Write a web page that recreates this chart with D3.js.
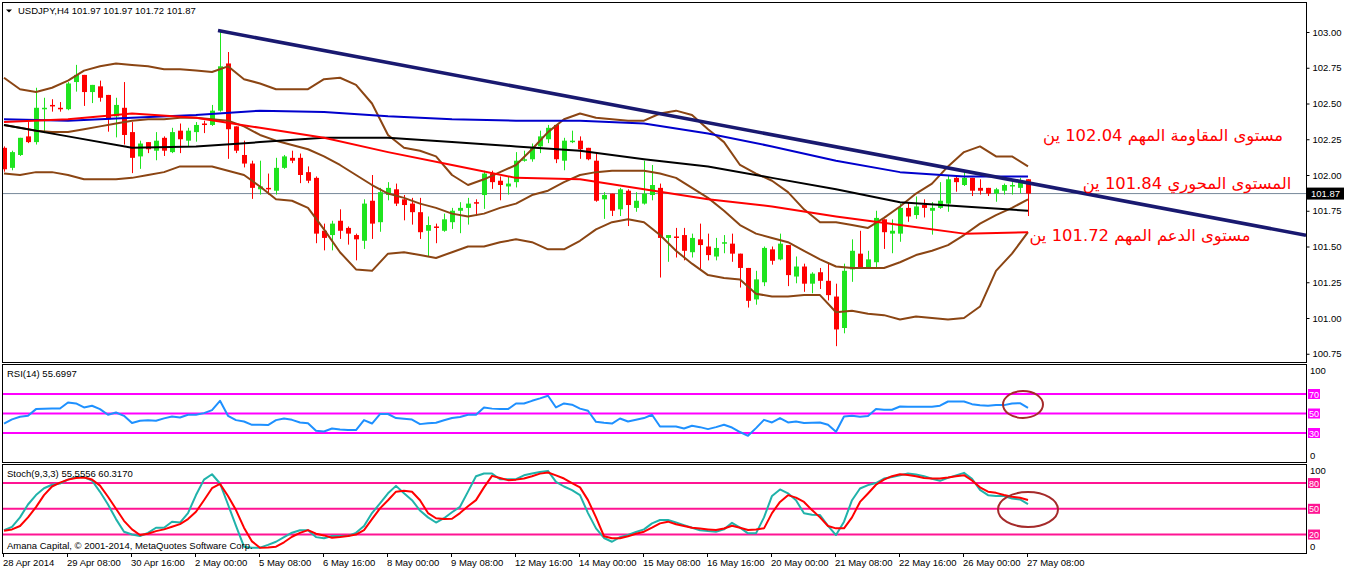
<!DOCTYPE html>
<html><head><meta charset="utf-8">
<script src="https://cdn.jsdelivr.net/npm/d3@7"></script>
<style>body{margin:0;background:#fff;}svg{display:block;font-family:"Liberation Sans",Arial,sans-serif;}</style>
</head><body><svg id="c" width="1346" height="571"></svg>
<script>
// ---------- DATA ----------
const symbolHeader = "USDJPY,H4  101.97 101.97 101.72 101.87";
const openP = [102.19,102.05,102.14,102.27,102.23,102.46,102.49,102.47,102.46,102.65,102.70,102.58,102.62,102.56,102.41,102.47,102.30,102.13,102.23,102.17,102.26,102.16,102.31,102.24,102.30,102.36,102.35,102.45,102.78,102.34,102.14,102.08,101.90,101.91,101.89,102.05,102.12,102.12,102.02,101.98,101.61,101.58,101.68,101.63,101.58,101.54,101.82,101.67,101.86,101.90,101.83,101.80,101.74,101.61,101.64,101.61,101.67,101.75,101.77,101.81,101.86,102.01,101.96,101.92,101.95,102.10,102.11,102.20,102.25,102.35,102.10,102.23,102.24,102.19,102.10,101.83,101.87,101.76,101.89,101.77,101.80,101.86,101.91,101.56,101.57,101.58,101.46,101.55,101.50,101.43,101.52,101.52,101.45,101.35,101.13,101.25,101.48,101.41,101.51,101.29,101.36,101.24,101.32,101.26,101.15,100.93,101.34,101.45,101.35,101.39,101.69,101.59,101.59,101.77,101.72,101.79,101.75,101.77,101.80,101.98,101.93,101.98,101.91,101.91,101.87,101.89,101.92,101.91,101.97];
const highP = [102.20,102.17,102.26,102.37,102.61,102.54,102.53,102.51,102.65,102.77,102.70,102.63,102.66,102.56,102.54,102.65,102.37,102.24,102.23,102.30,102.27,102.33,102.36,102.33,102.37,102.38,102.49,103.01,102.86,102.34,102.24,102.10,102.10,102.01,102.12,102.14,102.17,102.15,102.06,101.99,101.66,101.68,101.76,101.64,101.59,101.83,102.00,101.91,101.95,101.94,101.86,101.84,101.84,101.71,101.66,101.73,101.77,101.81,101.84,101.83,102.03,102.03,101.99,101.99,102.16,102.17,102.22,102.31,102.35,102.35,102.26,102.31,102.27,102.19,102.16,101.88,101.87,101.91,101.90,101.88,102.10,102.07,101.94,101.58,101.63,101.63,101.59,101.66,101.59,101.56,101.58,101.59,101.45,101.35,101.33,101.50,101.50,101.59,101.51,101.43,101.38,101.32,101.35,101.39,101.24,101.38,101.55,101.61,101.47,101.75,101.69,101.69,101.80,101.81,101.85,101.83,101.81,101.95,102.00,102.00,102.02,101.98,101.97,101.91,101.91,101.94,101.95,101.98,101.97];
const lowP = [102.03,102.04,102.14,102.23,102.22,102.30,102.45,102.45,102.46,102.59,102.49,102.51,102.52,102.31,102.27,102.22,102.02,102.05,102.16,102.11,102.14,102.16,102.16,102.21,102.24,102.30,102.35,102.45,102.12,102.16,102.06,101.84,101.87,101.87,101.87,102.05,102.09,101.95,101.95,101.53,101.48,101.48,101.56,101.52,101.41,101.49,101.56,101.61,101.83,101.79,101.69,101.66,101.56,101.44,101.53,101.61,101.63,101.60,101.66,101.72,101.77,101.91,101.83,101.87,101.92,102.10,102.10,102.16,102.23,102.09,102.04,102.23,102.12,102.11,101.82,101.70,101.72,101.72,101.65,101.75,101.80,101.83,101.29,101.40,101.43,101.41,101.43,101.34,101.41,101.41,101.46,101.40,101.22,101.08,101.10,101.23,101.38,101.41,101.23,101.25,101.19,101.18,101.21,101.13,100.81,100.90,101.26,101.35,101.35,101.35,101.49,101.46,101.54,101.68,101.70,101.71,101.59,101.77,101.75,101.89,101.93,101.86,101.87,101.86,101.82,101.87,101.87,101.88,101.72];
const closeP = [102.04,102.16,102.26,102.23,102.47,102.47,102.48,102.465,102.64,102.70,102.58,102.63,102.54,102.39,102.49,102.28,102.12,102.22,102.18,102.24,102.17,102.30,102.25,102.31,102.35,102.35,102.45,102.76,102.32,102.17,102.08,101.91,101.92,101.90,102.05,102.13,102.10,102.00,101.96,101.59,101.56,101.66,101.61,101.59,101.55,101.80,101.66,101.88,101.91,101.80,101.79,101.74,101.60,101.65,101.63,101.69,101.75,101.77,101.80,101.80,102.01,101.95,101.93,101.94,102.10,102.11,102.19,102.27,102.33,102.11,102.24,102.24,102.18,102.11,101.82,101.86,101.75,101.90,101.79,101.82,101.87,101.93,101.56,101.58,101.56,101.47,101.56,101.51,101.44,101.49,101.53,101.45,101.35,101.12,101.27,101.49,101.40,101.52,101.30,101.36,101.24,101.31,101.26,101.16,100.92,101.33,101.47,101.35,101.41,101.70,101.60,101.61,101.77,101.71,101.78,101.77,101.77,101.82,101.97,101.95,101.98,101.89,101.89,101.87,101.90,101.93,101.93,101.95,101.87];
const lastPrice = 101.87;

// Bollinger bands, read every 2 bars
const bbUpper = [102.68,102.60,102.58,102.61,102.66,102.73,102.76,102.78,102.77,102.76,102.74,102.74,102.73,102.72,102.76,102.67,102.64,102.60,102.60,102.60,102.67,102.68,102.63,102.50,102.28,102.19,102.17,102.13,102.00,101.93,101.97,102.02,102.07,102.18,102.30,102.39,102.43,102.40,102.39,102.38,102.38,102.43,102.45,102.42,102.32,102.23,102.07,102.01,101.96,101.88,101.76,101.67,101.67,101.65,101.63,101.70,101.78,101.87,101.94,102.06,102.16,102.20,102.13,102.13,102.06];
const bbMiddle = [102.35,102.33,102.31,102.30,102.30,102.32,102.34,102.36,102.38,102.39,102.39,102.40,102.40,102.39,102.38,102.34,102.28,102.24,102.21,102.18,102.13,102.07,102.00,101.93,101.87,101.84,101.80,101.77,101.73,101.71,101.73,101.77,101.80,101.86,101.89,101.95,102.00,102.02,102.03,102.03,102.03,102.01,101.98,101.91,101.84,101.75,101.65,101.59,101.56,101.53,101.47,101.41,101.36,101.35,101.35,101.35,101.39,101.44,101.47,101.51,101.58,101.66,101.72,101.77,101.83];
const bbLower = [102.01,102.00,102.02,102.02,102.00,101.97,101.97,101.97,101.98,102.00,102.02,102.06,102.06,102.06,102.03,102.00,101.92,101.83,101.82,101.77,101.62,101.46,101.34,101.33,101.45,101.46,101.44,101.42,101.46,101.50,101.50,101.53,101.55,101.53,101.48,101.48,101.54,101.62,101.67,101.69,101.67,101.58,101.47,101.38,101.30,101.28,101.27,101.17,101.15,101.15,101.16,101.16,101.04,101.05,101.03,101.02,100.99,101.01,101.00,100.99,101.00,101.08,101.33,101.45,101.60];
// Moving averages, read every 8 bars
const maBlue = [102.39,102.38,102.40,102.42,102.45,102.44,102.41,102.39,102.38,102.38,102.36,102.29,102.20,102.10,102.02,101.99,101.99];
const maBlack = [102.35,102.27,102.19,102.20,102.23,102.26,102.26,102.23,102.20,102.17,102.11,102.06,101.98,101.90,101.81,101.78,101.75];
const maRed = [102.37,102.39,102.43,102.40,102.33,102.26,102.16,102.07,101.98,101.97,101.90,101.83,101.78,101.71,101.65,101.59,101.60];
// Trend line anchors (bar index, price)
const trendIdx = [27, 128];
const trendVal = [103.01, 101.945];

const rsi = [39.7,44,46.6,47.6,54.5,54.8,55.1,55.1,61.3,60.3,56.2,57.9,54.5,48.7,51,47.6,40.2,42.5,43.2,42.5,45,46.9,45.9,48.7,48.7,50.4,53.5,63,47.6,43.2,41.8,38.4,38.4,38.1,43.2,44.9,43.5,40.8,40,32.3,31.6,34.6,33.5,33,33,43.2,39.7,49.4,49.5,45.3,44.5,43.8,39.1,40,40.5,43,45.3,46.5,48.7,48.7,56.2,55,54.5,54.5,60.3,60.3,63,65.5,68.2,56.2,60.3,59,55,52.8,41.5,40.5,39.7,44.9,41.8,43.5,45.3,48.7,36.7,36.7,36.7,34.6,37.4,36,34,36,38.4,35.6,31,27.1,35,43.5,40.8,45.3,40.8,41.8,40.2,40.5,40.8,38.4,31.2,46.9,47.6,46.6,47.5,54.5,53.8,53.8,57.2,56.9,57,56.9,56.9,58,62.3,62.3,62.3,59.6,58.5,57.9,58.6,58.6,60.3,60.6,55.7];
const stochK = [25.2,29,40,55,66,74,78,79.5,84,87,87,83,69.8,55,38,23.3,20,18.3,22,27.9,27.9,34.9,34,45,66,84,90.3,79.5,55,30,5.8,4.7,4.7,8,11.6,17,22.1,25,25,17,15.6,18.3,18.3,18.3,22,30,45,56.3,68,76.7,68,60,48,40,34,39,46,52.3,70,88,91.2,91.2,84.5,84.5,84.5,89,91.2,93,94.2,81.4,76,71.7,66,45,27.2,16,11.6,17,19.4,23,26,33,36.9,36.9,34,31,28,25,24,23.3,26,33.7,28,21.4,21.4,40,65,72.6,68,60,44.7,43,42.7,30,19.4,35,60,73.7,77.6,80,85.3,87,89,91.2,90,88,85,82.6,86,89,91.9,85,72,65.9,64.8,64.8,62,60.9,55.56];
const stochD = [24.4,26,29.9,40,52,66,76,80.5,84,86,86.5,84.2,77,64,50,36,26,19.4,21,24,26,29,32.2,38,46.5,60,74,79,65,48.5,28,12,4.7,5,5.8,11,17.4,22,25.2,21,19,16.3,17,18.3,20,25.2,38,50.5,60,70,71,69.8,60,45,39,38,38.4,45,53,60.1,75,88.4,86,83.4,84,85.3,88,91,92.3,89,85.3,80,75,60.1,40,18,15.6,15.6,18,21,23.3,28,33,35,32,30,28,27,26,25.2,27,30.2,28,25.2,26,27.2,45,58,65.9,63,58,48.5,40,30,27.2,27.2,40,58,67.9,78,84,88,90.3,89.5,88,86,85.3,85.3,86.5,88,89.2,83,75,70,68.6,66,64,62.8,60.32];

const priceTicks = [103.00,102.75,102.50,102.25,102.00,101.75,101.50,101.25,101.00,100.75];
const rsiLevels = [70,50,30];
const stochLevels = [80,50,20];
const dateTickIdx = [0,8,16,24,32,40,48,56,64,72,80,88,96,104,112,120,128];
const dateTickLabels = ["28 Apr 2014","29 Apr 08:00","30 Apr 16:00","2 May 00:00","5 May 08:00","6 May 16:00","8 May 00:00","9 May 08:00","12 May 16:00","14 May 00:00","15 May 08:00","16 May 16:00","20 May 00:00","21 May 08:00","22 May 16:00","26 May 00:00","27 May 08:00"];
const notes = [
  {text:"مستوى المقاومة المهم 102.04 ين", price:102.04},
  {text:"المستوى المحوري 101.84 ين", price:101.84},
  {text:"مستوى الدعم المهم 101.72 ين", price:101.72}
];

// ---------- LAYOUT ----------
const L = 2, R = 1306;
const mainP = {t:2, b:362}, rsiP = {t:364, b:462}, stoP = {t:464, b:553};
const FS = 9.5;

const svg = d3.select("#c");
const x = d3.scaleLinear().domain([0,128]).range([4,1028]);
const y = d3.scaleLinear().domain([100.75,103]).range([353.75,32]);
const yR = d3.scaleLinear().domain([0,100]).range([462.25,364.75]);
const yS = d3.scaleLinear().domain([0,100]).range([551.7,465.9]);

const defs = svg.append("defs");
defs.append("clipPath").attr("id","cm").append("rect").attr("x",L).attr("y",mainP.t).attr("width",R-L).attr("height",mainP.b-mainP.t);
defs.append("clipPath").attr("id","cr").append("rect").attr("x",L).attr("y",rsiP.t).attr("width",R-L).attr("height",rsiP.b-rsiP.t);
defs.append("clipPath").attr("id","cs").append("rect").attr("x",L).attr("y",stoP.t).attr("width",R-L).attr("height",stoP.b-stoP.t);

const gm = svg.append("g").attr("clip-path","url(#cm)");

// last price line
gm.append("line").attr("x1",L).attr("x2",R).attr("y1",y(lastPrice)).attr("y2",y(lastPrice))
  .attr("stroke","#778899").attr("stroke-width",1);

// candles
const idx = d3.range(openP.length);
const bull = "#1fe41f", bear = "#ff0000";
gm.selectAll("line.wick").data(idx).join("line").attr("class","wick")
  .attr("x1",i=>x(i)+0.5).attr("x2",i=>x(i)+0.5)
  .attr("y1",i=>y(highP[i])).attr("y2",i=>y(lowP[i])+1)
  .attr("stroke",i=>closeP[i]>=openP[i]?bull:bear).attr("stroke-width",1);
gm.selectAll("rect.body").data(idx).join("rect").attr("class","body")
  .attr("x",i=>x(i)-2).attr("width",5)
  .attr("y",i=>y(Math.max(openP[i],closeP[i])))
  .attr("height",i=>Math.max(1.5,Math.abs(y(openP[i])-y(closeP[i]))))
  .attr("fill",i=>closeP[i]>=openP[i]?bull:bear);

// indicator lines
function drawLine(g, vals, step, ys, color, w){
  const line = d3.line().x((d,k)=>x(k*step)).y(d=>ys(d));
  g.append("path").attr("d",line(vals)).attr("fill","none").attr("stroke",color)
   .attr("stroke-width",w).attr("stroke-linejoin","round");
}
drawLine(gm, bbUpper, 2, y, "#8b4513", 2);
drawLine(gm, bbMiddle, 2, y, "#8b4513", 2);
drawLine(gm, bbLower, 2, y, "#8b4513", 2);
drawLine(gm, maBlack, 8, y, "#000000", 2);
drawLine(gm, maBlue, 8, y, "#0000cd", 2);
drawLine(gm, maRed, 8, y, "#ff0000", 2);

// trend line (ray to the right edge)
const tl = d3.scaleLinear().domain(trendIdx).range(trendVal);
const endIdx = x.invert(R);
gm.append("line").attr("x1",x(trendIdx[0])-2).attr("y1",y(tl(trendIdx[0])))
  .attr("x2",R).attr("y2",y(tl(endIdx)))
  .attr("stroke","#191970").attr("stroke-width",3.6);

// annotations
const noteX = [1163, 1187, 1140];
svg.selectAll("text.note").data(notes).join("text").attr("class","note")
  .attr("x",(d,k)=>noteX[k]).attr("y",(d,k)=>[141,189,240.5][k])
  .attr("text-anchor","middle").attr("direction","rtl")
  .style("font-family","'DejaVu Sans',sans-serif").style("font-size","16.4px")
  .attr("fill","#ff0000").text(d=>d.text);

// RSI panel
const gr = svg.append("g").attr("clip-path","url(#cr)");
rsiLevels.forEach(v=>gr.append("line").attr("x1",L).attr("x2",R).attr("y1",yR(v)).attr("y2",yR(v))
  .attr("stroke","#ff00ff").attr("stroke-width",2));
drawLine(gr, rsi, 1, yR, "#1e90ff", 2);

// Stoch panel
const gs = svg.append("g").attr("clip-path","url(#cs)");
stochLevels.forEach(v=>gs.append("line").attr("x1",L).attr("x2",R).attr("y1",yS(v)).attr("y2",yS(v))
  .attr("stroke","#ff1493").attr("stroke-width",2));
drawLine(gs, stochK, 1, yS, "#20b2aa", 2);
drawLine(gs, stochD, 1, yS, "#ff0000", 2);

// ellipses
svg.append("ellipse").attr("cx",1023).attr("cy",404.5).attr("rx",20).attr("ry",13.5)
  .attr("fill","none").attr("stroke","#a52a2a").attr("stroke-width",2);
svg.append("ellipse").attr("cx",1028).attr("cy",509.5).attr("rx",30).attr("ry",17.5)
  .attr("fill","none").attr("stroke","#a52a2a").attr("stroke-width",2);

// frames
[[mainP.t,mainP.b],[rsiP.t,rsiP.b],[stoP.t,stoP.b]].forEach(([t,b])=>{
  svg.append("rect").attr("x",L+0.5).attr("y",t+0.5).attr("width",R-L).attr("height",b-t)
    .attr("fill","none").attr("stroke","#000").attr("stroke-width",1);
});

// price axis
const ax = svg.append("g").attr("transform",`translate(${R+0.5},0)`)
  .call(d3.axisRight(y).tickValues(priceTicks).tickFormat(d3.format(".2f")).tickSize(3).tickPadding(3));
ax.select(".domain").remove();
ax.selectAll("text").style("font-family","'Liberation Sans',Arial,sans-serif").style("font-size",FS+"px").attr("fill","#000");
ax.selectAll("line").attr("stroke","#000");

// last price label
svg.append("rect").attr("x",R+1).attr("y",y(lastPrice)-6).attr("width",37).attr("height",12).attr("fill","#000");
svg.append("text").attr("x",R+5).attr("y",y(lastPrice)+3.5).attr("fill","#fff").style("font-size",FS+"px")
  .text(d3.format(".2f")(lastPrice));

// RSI / Stoch labels
function levelLabels(ys, levels, color){
  levels.forEach(v=>{
    svg.append("rect").attr("x",R+2).attr("y",ys(v)-5).attr("width",12).attr("height",10).attr("fill",color);
    svg.append("text").attr("x",R+3).attr("y",ys(v)+3.5).attr("fill","#fff").style("font-size","9px").text(v);
  });
}
levelLabels(yR, rsiLevels, "#ff00ff");
levelLabels(yS, stochLevels, "#ff1493");
svg.append("text").attr("x",R+4).attr("y",yR(100)+9.5).style("font-size",FS+"px").text("100");
svg.append("text").attr("x",R+4).attr("y",yR(0)-3.5).style("font-size",FS+"px").text("0");
svg.append("text").attr("x",R+4).attr("y",yS(100)+8.5).style("font-size",FS+"px").text("100");
svg.append("text").attr("x",R+4).attr("y",yS(0)-1.5).style("font-size",FS+"px").text("0");

// header texts
svg.append("path").attr("d","M6,9.5 L12,9.5 L9,12.5 Z").attr("fill","#000");
svg.append("text").attr("x",18).attr("y",14).style("font-size",FS+"px").text(symbolHeader);
svg.append("text").attr("x",7).attr("y",377).style("font-size",FS+"px").text("RSI(14) 55.6997");
svg.append("text").attr("x",7).attr("y",477).style("font-size",FS+"px").text("Stoch(9,3,3) 55.5556 60.3170");
svg.append("text").attr("x",7).attr("y",549).style("font-size",FS+"px").text("Amana Capital, © 2001-2014, MetaQuotes Software Corp.");

// date axis
const gx = svg.append("g");
gx.selectAll("line").data(dateTickIdx).join("line")
  .attr("x1",i=>x(i)-0.5).attr("x2",i=>x(i)-0.5).attr("y1",stoP.b).attr("y2",stoP.b+4).attr("stroke","#000");
gx.selectAll("text").data(dateTickIdx).join("text")
  .attr("x",i=>x(i)-1).attr("y",566).style("font-size",FS+"px")
  .text((d,k)=>dateTickLabels[k]);
</script></body></html>
